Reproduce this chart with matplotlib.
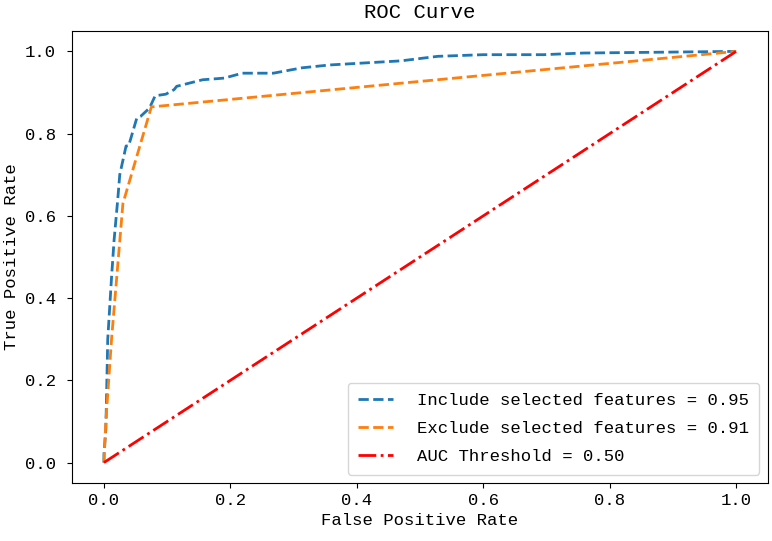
import matplotlib.pyplot as plt

plt.rcParams['font.family'] = ['Liberation Mono', 'DejaVu Sans']
plt.rcParams['font.size'] = 12.4

# ROC curve with the selected features
fpr_inc = [0.0, 0.0, 0.003, 0.006, 0.012, 0.016, 0.022, 0.025, 0.035, 0.039,
           0.052, 0.058, 0.072, 0.081, 0.098, 0.111, 0.115, 0.156, 0.19,
           0.219, 0.268, 0.313, 0.357, 0.47, 0.528, 0.6, 0.695, 0.758, 1.0]
tpr_inc = [0.0, 0.02, 0.08, 0.3, 0.45, 0.54, 0.643, 0.70, 0.77, 0.77,
           0.838, 0.842, 0.862, 0.892, 0.896, 0.907, 0.915, 0.931, 0.935,
           0.947, 0.947, 0.96, 0.967, 0.977, 0.988, 0.992, 0.992, 0.996, 1.0]

# ROC curve without them
fpr_exc = [0.0, 0.003, 0.012, 0.03, 0.075, 1.0]
tpr_exc = [0.0, 0.1, 0.3, 0.63, 0.865, 1.0]

# chance line
fpr_ref = [0.0, 1.0]
tpr_ref = [0.0, 1.0]

labels = ["Include selected features = 0.95",
          "Exclude selected features = 0.91",
          "AUC Threshold = 0.50"]

fig, ax = plt.subplots(figsize=(7.72, 5.41), dpi=100)
fig.subplots_adjust(left=0.0937, right=0.9945, top=0.943, bottom=0.107)

ax.plot(fpr_inc, tpr_inc, '--', color='tab:blue', lw=2, label=labels[0])
ax.plot(fpr_exc, tpr_exc, '--', color='tab:orange', lw=2, label=labels[1])
ax.plot(fpr_ref, tpr_ref, '-.', color='red', lw=2, label=labels[2])

ax.set_title("ROC Curve", pad=9.5)
ax.set_xlabel("False Positive Rate")
ax.set_ylabel("True Positive Rate")
ax.tick_params(axis='y', pad=8.5)
ax.legend(loc='lower right', labelspacing=0.75, handletextpad=1.4,
          borderpad=0.6)

plt.savefig("out.png")
